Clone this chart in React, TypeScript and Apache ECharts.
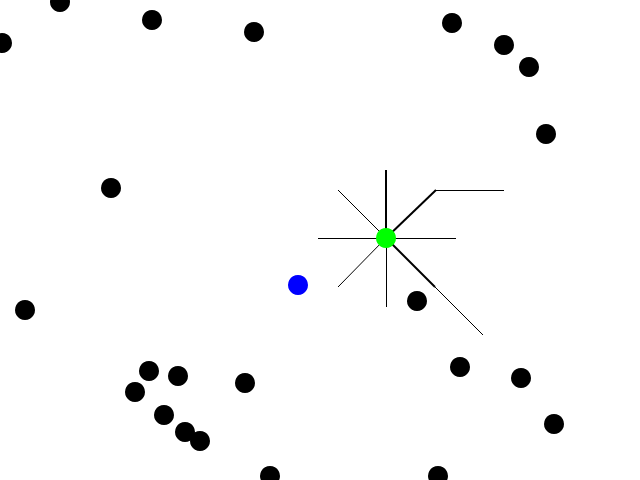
import React, { useEffect, useRef } from "react";
import * as echarts from "echarts";

// Black points [x, y] in chart units (x 0..640, y 0..480 from the top)
const blackPoints: number[][] = [
  [60, 2], [2, 43], [152, 20], [254, 32],
  [452, 23], [504, 45], [529, 67], [546, 134],
  [111, 188], [25, 310], [417, 301],
  [149, 371], [178, 376], [135, 392], [164, 415], [185, 432], [200, 441], [245, 383],
  [460, 367], [521, 378], [554, 424],
  [270, 476], [438, 476],
];
const bluePoints: number[][] = [[298, 285]];
const greenPoints: number[][] = [[386, 238]];

// Thin ray segments
const thinSegments: number[][][] = [
  [[318, 238.5], [456, 238.5]],
  [[386.5, 238], [386.5, 307]],
  [[338, 190], [386, 238]],
  [[338, 287], [386, 238]],
  [[386, 238], [483, 335]],
  [[436, 190.5], [504, 190.5]],
];
// Thick segments
const thickSegments: number[][][] = [
  [[386, 170], [386, 238]],
  [[386, 238], [436, 190]],
  [[386, 238], [435, 287]],
];

export default function App() {
  const ref = useRef<HTMLDivElement>(null);
  useEffect(() => {
    document.body.style.margin = "0";
    if (!ref.current) return;
    const chart = echarts.init(ref.current, undefined, { renderer: "svg" });
    const lineSeries: any[] = [];
    thinSegments.forEach((seg) =>
      lineSeries.push({
        type: "line",
        data: seg,
        symbol: "none",
        silent: true,
        lineStyle: { color: "#000", width: 1 },
        z: 1,
      })
    );
    thickSegments.forEach((seg) =>
      lineSeries.push({
        type: "line",
        data: seg,
        symbol: "none",
        silent: true,
        lineStyle: { color: "#000", width: 2 },
        z: 1,
      })
    );
    chart.setOption({
      animation: false,
      backgroundColor: "#fff",
      grid: { left: 0, right: 0, top: 0, bottom: 0 },
      xAxis: { type: "value", min: 0, max: 640, show: false },
      yAxis: { type: "value", min: 0, max: 480, inverse: true, show: false },
      series: [
        ...lineSeries,
        {
          type: "scatter",
          data: blackPoints,
          symbolSize: 20,
          itemStyle: { color: "#000", opacity: 1 },
          z: 2,
        },
        {
          type: "scatter",
          data: bluePoints,
          symbolSize: 20,
          itemStyle: { color: "#0000ff", opacity: 1 },
          z: 2,
        },
        {
          type: "scatter",
          data: greenPoints,
          symbolSize: 20,
          itemStyle: { color: "#00ff00", opacity: 1 },
          z: 3,
        },
      ],
    });
    return () => chart.dispose();
  }, []);
  return <div ref={ref} style={{ width: 640, height: 480 }} />;
}
